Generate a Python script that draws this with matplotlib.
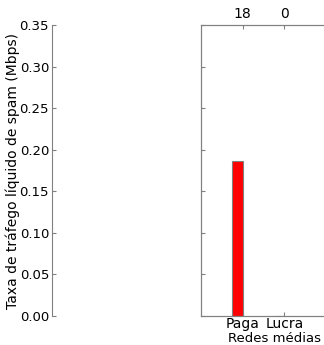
import matplotlib.pyplot as plt

# Data
categories = ['Paga', 'Lucra']
spam_rate = [0.187, 0.0]
counts = ['18', '0']
yticks = [0.00, 0.05, 0.10, 0.15, 0.20, 0.25, 0.30, 0.35]

edge = '#808080'
width = 0.25

fig = plt.figure(figsize=(3.24, 3.45), dpi=100)

# left axes: only the y axis is shown
axl = fig.add_axes([0.160, 0.084, 0.30, 0.8435])
axl.set_ylim(0, 0.35)
axl.set_yticks(yticks)
axl.set_yticklabels(['%.2f' % t for t in yticks], fontsize=9.5)
axl.set_xticks([])
for s in ['top', 'right', 'bottom']:
    axl.spines[s].set_visible(False)
axl.spines['left'].set_color(edge)
axl.tick_params(axis='y', direction='in', length=3, color=edge, pad=2)
axl.set_ylabel('Taxa de tráfego líquido de spam (Mbps)', fontsize=10)
axl.yaxis.set_label_coords(-0.325, 0.50)
axl.patch.set_alpha(0)

# right axes with the bars
ax = fig.add_axes([0.620, 0.084, 0.38, 0.8435])
pos = list(range(len(categories)))
ax.bar(pos, spam_rate, width=-width, align='edge', color='red', edgecolor=edge, linewidth=0.8)
ax.set_xlim(-1.0, 1.95)
ax.set_ylim(0, 0.35)
ax.set_yticks(yticks)
ax.set_yticklabels([])
ax.set_xticks(pos)
ax.set_xticklabels(categories, fontsize=10)
ax.set_xlabel('Redes médias', fontsize=9.5)
ax.xaxis.set_label_coords(0.60, -0.054)
ax.spines['right'].set_visible(False)
for s in ['top', 'left', 'bottom']:
    ax.spines[s].set_color(edge)
ax.tick_params(direction='in', length=3, color=edge, pad=2)
ax.tick_params(axis='x', pad=0.5)

top = ax.twiny()
top.set_xlim(ax.get_xlim())
top.set_xticks(pos)
top.set_xticklabels(counts, fontsize=10)
top.spines['right'].set_visible(False)
for s in ['top', 'left', 'bottom']:
    top.spines[s].set_color(edge)
top.tick_params(direction='in', length=3, color=edge, pad=3)

fig.savefig('out.png', dpi=100)
